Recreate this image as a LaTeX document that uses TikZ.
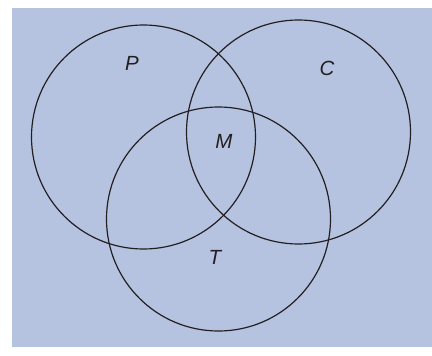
\documentclass[tikz,border=0pt]{standalone}
\usepackage{fontspec}
\setmainfont{Liberation Sans}
\definecolor{bgblue}{RGB}{181,195,224}
\definecolor{ink}{RGB}{35,31,32}
\begin{document}
\begin{tikzpicture}[x=1pt,y=-1pt,
  venn/.style={circle, draw=ink, line width=1.2pt, minimum size=224pt, inner sep=0pt},
  lbl/.style={font=\fontsize{20.5}{20.5}\selectfont\itshape, text=ink, inner sep=0pt}]
\useasboundingbox (0,0) rectangle (432,356);
\fill[bgblue] (12,8) rectangle (432,347);
\node[venn] (cp) at (143.5,137) {};
\node[venn] (cc) at (298.5,132) {};
\node[venn] (ct) at (218.5,219) {};
\node[lbl] (lp) at (132,63.5) {P};
\node[lbl] (lc) at (327,68) {C};
\node[lbl] (lm) at (224,141) {M};
\node[lbl] (lt) at (215,257) {T};
\end{tikzpicture}
\end{document}
